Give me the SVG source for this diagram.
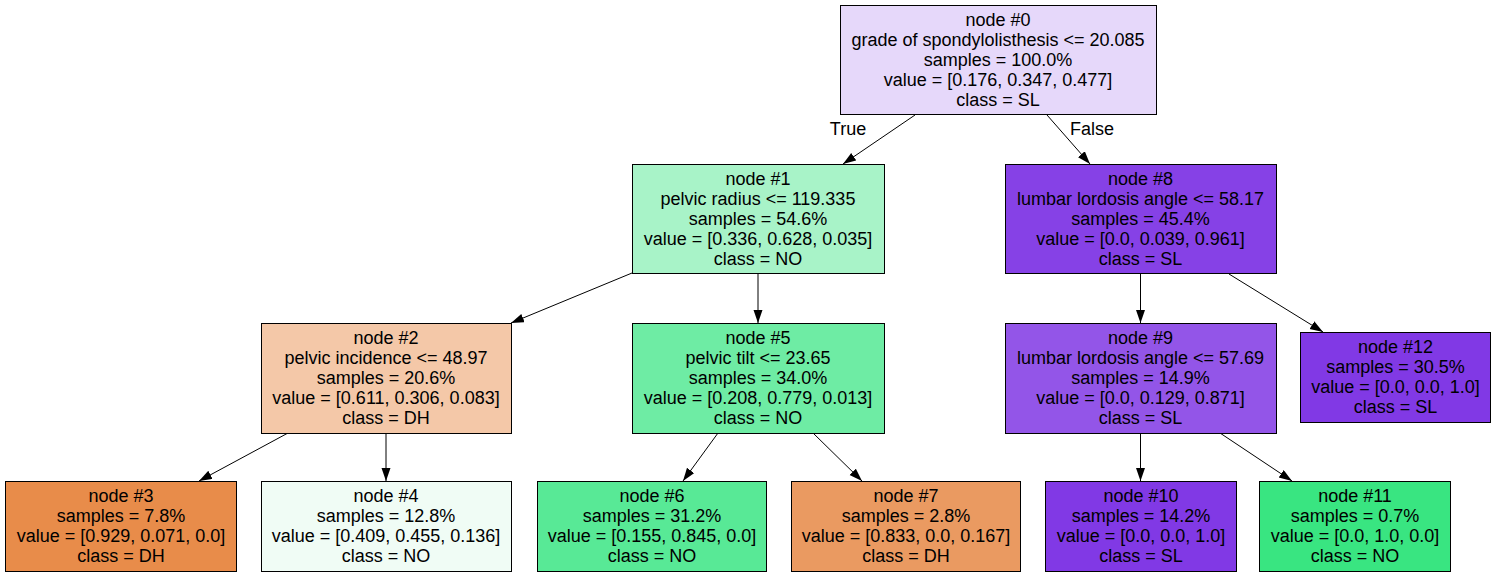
<svg xmlns="http://www.w3.org/2000/svg" width="1496" height="577" viewBox="0 0 1496 577">
  <style>
    .box { stroke: #000; stroke-width: 1; }
    .lbl { font-family: "Liberation Sans", Arial, sans-serif; font-size: 18px; fill: #000; text-anchor: middle; }
    .edge { stroke: #000; stroke-width: 1; fill: none; marker-end: url(#arrow); }
  </style>
  <defs>
    <marker id="arrow" markerUnits="userSpaceOnUse" markerWidth="14" markerHeight="10" refX="13" refY="4.5" orient="auto">
      <path d="M0,0 L13,4.5 L0,9 z" fill="#000"/>
    </marker>
  </defs>
  <rect width="1496" height="577" fill="#fff"/>

  <!-- connectors -->
  <g id="edges">
    <line class="edge" x1="915" y1="115" x2="843" y2="164"/>
    <line class="edge" x1="1047" y1="115" x2="1090" y2="164"/>
    <line class="edge" x1="632" y1="273" x2="511" y2="323"/>
    <line class="edge" x1="758" y1="274" x2="758" y2="323"/>
    <line class="edge" x1="1140.5" y1="274" x2="1140.5" y2="323"/>
    <line class="edge" x1="1229" y1="274" x2="1323" y2="332"/>
    <line class="edge" x1="288" y1="433" x2="199" y2="481"/>
    <line class="edge" x1="386" y1="433" x2="386" y2="481"/>
    <line class="edge" x1="718" y1="433" x2="683" y2="481"/>
    <line class="edge" x1="813" y1="433" x2="862" y2="481"/>
    <line class="edge" x1="1140.5" y1="433" x2="1140.5" y2="481"/>
    <line class="edge" x1="1220" y1="433" x2="1292" y2="481"/>
    <text class="lbl" x="848" y="135">True</text>
    <text class="lbl" x="1092" y="135">False</text>
  </g>

  <g id="node0">
    <rect class="box" x="840.5" y="5.5" width="316" height="109" fill="#e6d8fa"/>
    <text class="lbl" x="998" y="26">node #0<tspan x="998" dy="20">grade of spondylolisthesis &lt;= 20.085</tspan><tspan x="998" dy="20">samples = 100.0%</tspan><tspan x="998" dy="20">value = [0.176, 0.347, 0.477]</tspan><tspan x="998" dy="20">class = SL</tspan></text>
  </g>

  <g id="node1">
    <rect class="box" x="632.5" y="164.5" width="252" height="109" fill="#a8f3c8"/>
    <text class="lbl" x="758" y="185">node #1<tspan x="758" dy="20">pelvic radius &lt;= 119.335</tspan><tspan x="758" dy="20">samples = 54.6%</tspan><tspan x="758" dy="20">value = [0.336, 0.628, 0.035]</tspan><tspan x="758" dy="20">class = NO</tspan></text>
  </g>

  <g id="node8">
    <rect class="box" x="1005.5" y="164.5" width="271" height="109" fill="#8641e6"/>
    <text class="lbl" x="1140.5" y="185">node #8<tspan x="1140.5" dy="20">lumbar lordosis angle &lt;= 58.17</tspan><tspan x="1140.5" dy="20">samples = 45.4%</tspan><tspan x="1140.5" dy="20">value = [0.0, 0.039, 0.961]</tspan><tspan x="1140.5" dy="20">class = SL</tspan></text>
  </g>

  <g id="node2">
    <rect class="box" x="261.5" y="323.5" width="250" height="110" fill="#f4c8a8"/>
    <text class="lbl" x="386" y="344">node #2<tspan x="386" dy="20">pelvic incidence &lt;= 48.97</tspan><tspan x="386" dy="20">samples = 20.6%</tspan><tspan x="386" dy="20">value = [0.611, 0.306, 0.083]</tspan><tspan x="386" dy="20">class = DH</tspan></text>
  </g>

  <g id="node5">
    <rect class="box" x="632.5" y="323.5" width="252" height="110" fill="#6eeca4"/>
    <text class="lbl" x="758" y="344">node #5<tspan x="758" dy="20">pelvic tilt &lt;= 23.65</tspan><tspan x="758" dy="20">samples = 34.0%</tspan><tspan x="758" dy="20">value = [0.208, 0.779, 0.013]</tspan><tspan x="758" dy="20">class = NO</tspan></text>
  </g>

  <g id="node9">
    <rect class="box" x="1005.5" y="323.5" width="271" height="110" fill="#9355e8"/>
    <text class="lbl" x="1140.5" y="344">node #9<tspan x="1140.5" dy="20">lumbar lordosis angle &lt;= 57.69</tspan><tspan x="1140.5" dy="20">samples = 14.9%</tspan><tspan x="1140.5" dy="20">value = [0.0, 0.129, 0.871]</tspan><tspan x="1140.5" dy="20">class = SL</tspan></text>
  </g>

  <g id="node12">
    <rect class="box" x="1300.5" y="332.5" width="190" height="90" fill="#8139e5"/>
    <text class="lbl" x="1395.5" y="353">node #12<tspan x="1395.5" dy="20">samples = 30.5%</tspan><tspan x="1395.5" dy="20">value = [0.0, 0.0, 1.0]</tspan><tspan x="1395.5" dy="20">class = SL</tspan></text>
  </g>

  <g id="node3">
    <rect class="box" x="5.5" y="481.5" width="231" height="90" fill="#e88c4a"/>
    <text class="lbl" x="121" y="502">node #3<tspan x="121" dy="20">samples = 7.8%</tspan><tspan x="121" dy="20">value = [0.929, 0.071, 0.0]</tspan><tspan x="121" dy="20">class = DH</tspan></text>
  </g>

  <g id="node4">
    <rect class="box" x="261.5" y="481.5" width="250" height="90" fill="#f0fcf5"/>
    <text class="lbl" x="386" y="502">node #4<tspan x="386" dy="20">samples = 12.8%</tspan><tspan x="386" dy="20">value = [0.409, 0.455, 0.136]</tspan><tspan x="386" dy="20">class = NO</tspan></text>
  </g>

  <g id="node6">
    <rect class="box" x="537.5" y="481.5" width="229" height="90" fill="#58e996"/>
    <text class="lbl" x="652" y="502">node #6<tspan x="652" dy="20">samples = 31.2%</tspan><tspan x="652" dy="20">value = [0.155, 0.845, 0.0]</tspan><tspan x="652" dy="20">class = NO</tspan></text>
  </g>

  <g id="node7">
    <rect class="box" x="791.5" y="481.5" width="229" height="90" fill="#ea9a61"/>
    <text class="lbl" x="906" y="502">node #7<tspan x="906" dy="20">samples = 2.8%</tspan><tspan x="906" dy="20">value = [0.833, 0.0, 0.167]</tspan><tspan x="906" dy="20">class = DH</tspan></text>
  </g>

  <g id="node10">
    <rect class="box" x="1045.5" y="481.5" width="191" height="90" fill="#8139e5"/>
    <text class="lbl" x="1141" y="502">node #10<tspan x="1141" dy="20">samples = 14.2%</tspan><tspan x="1141" dy="20">value = [0.0, 0.0, 1.0]</tspan><tspan x="1141" dy="20">class = SL</tspan></text>
  </g>

  <g id="node11">
    <rect class="box" x="1259.5" y="481.5" width="191" height="90" fill="#39e581"/>
    <text class="lbl" x="1355" y="502">node #11<tspan x="1355" dy="20">samples = 0.7%</tspan><tspan x="1355" dy="20">value = [0.0, 1.0, 0.0]</tspan><tspan x="1355" dy="20">class = NO</tspan></text>
  </g>
</svg>
